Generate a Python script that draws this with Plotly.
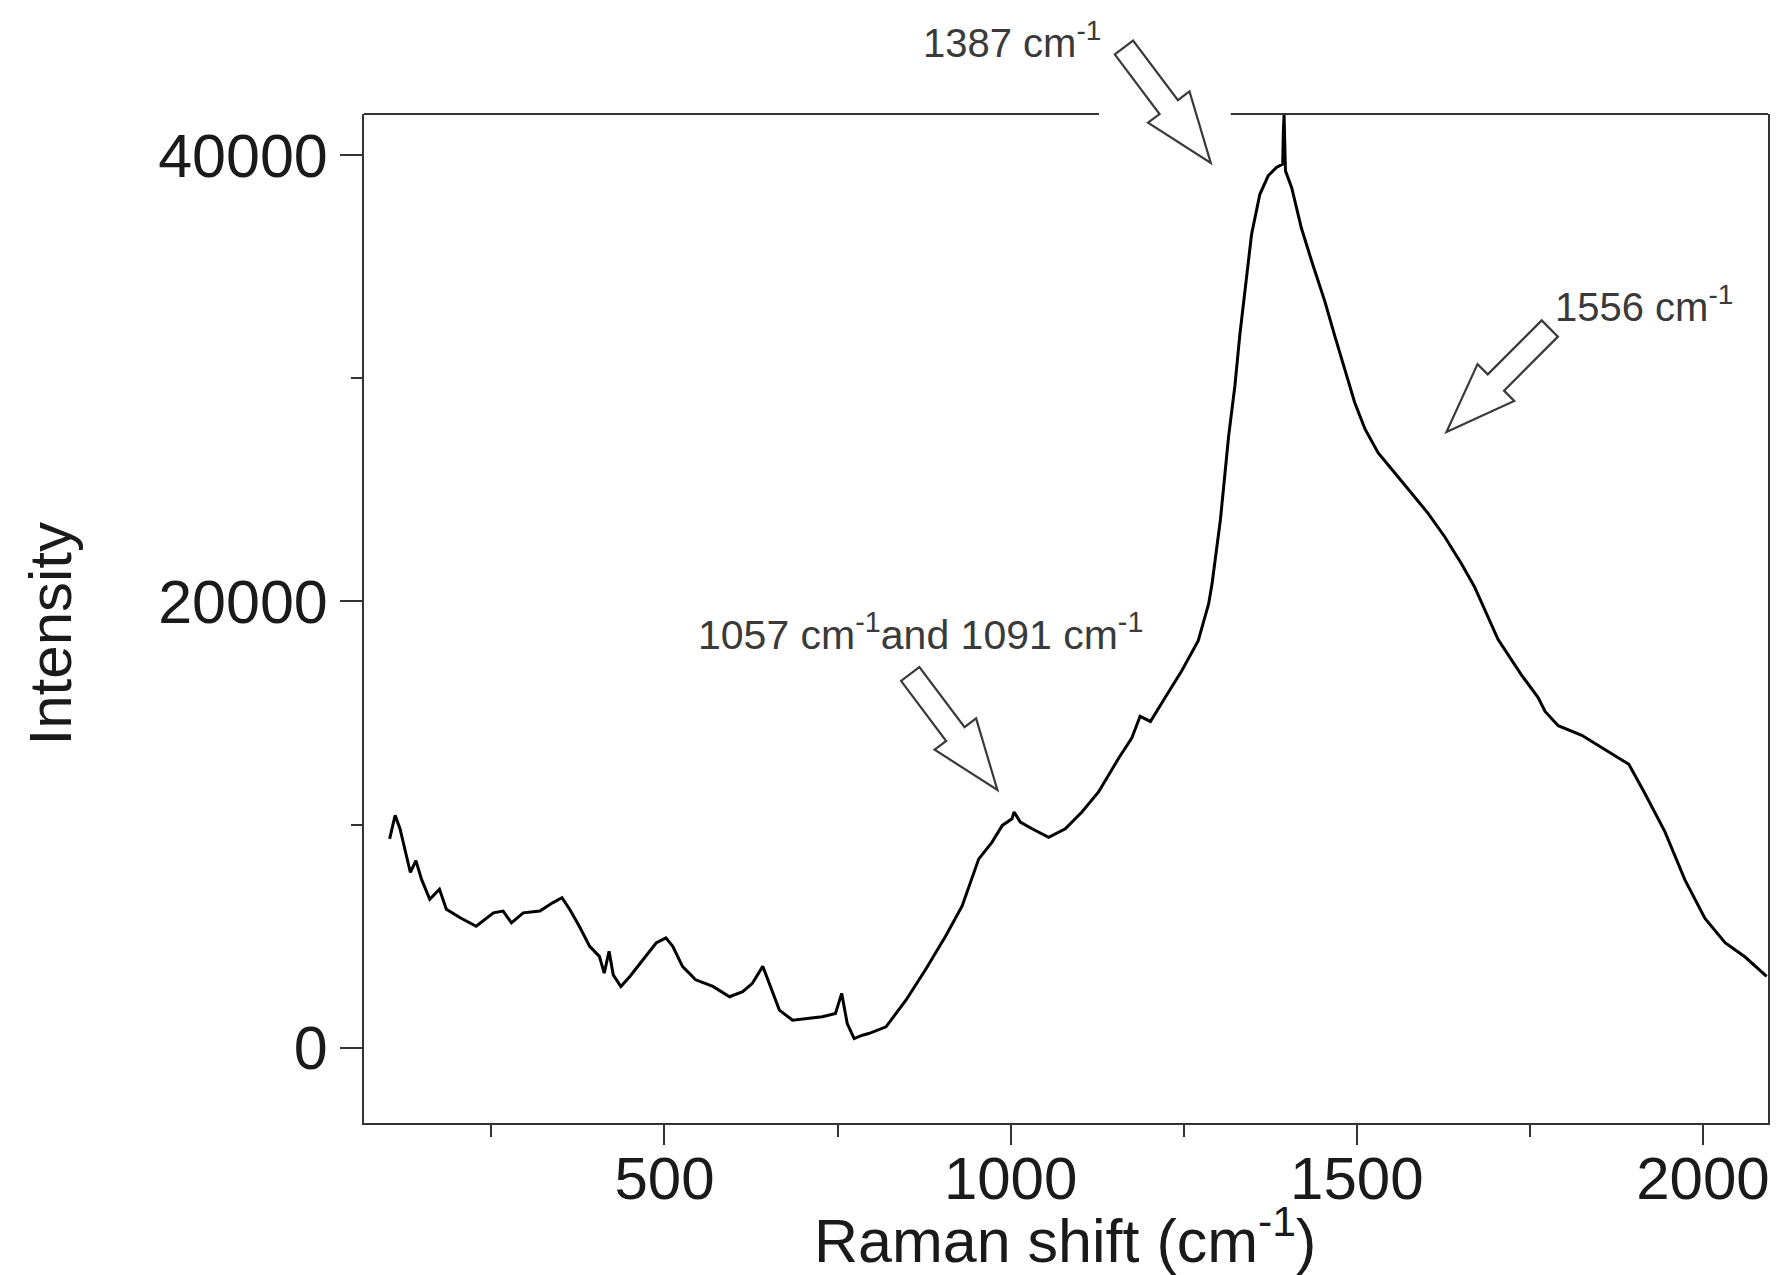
import plotly.graph_objects as go
import math

# ---- data (Raman spectrum) ----
raman_shift = [103, 111, 118, 133, 141, 149, 161, 175, 185, 205, 228, 253, 267, 279, 296,
               320, 339, 352, 363, 377, 392, 406, 413, 420, 426, 437, 450, 469, 488, 502,
               512, 526, 545, 570, 594, 613, 627, 642, 651, 666, 685, 704, 728, 747, 756,
               764, 774, 786, 795, 820, 849, 877, 906, 930, 945, 954, 973, 988, 1002, 1005,
               1014, 1031, 1055, 1079, 1103, 1127, 1156, 1175, 1187, 1202, 1223, 1247, 1271,
               1286, 1291, 1303, 1315, 1324, 1331, 1339, 1348, 1360, 1372, 1384, 1393, 1394,
               1395, 1396, 1397, 1406, 1420, 1435, 1454, 1468, 1483, 1497, 1512, 1531, 1555,
               1579, 1603, 1627, 1651, 1670, 1704, 1738, 1762, 1772, 1791, 1825, 1859, 1893,
               1916, 1945, 1974, 2003, 2032, 2061, 2092]
intensity = [9360, 10410, 9810, 7850, 8380, 7550, 6650, 7100, 6200, 5820, 5440, 6040, 6120, 5590, 6040,
             6120, 6500, 6720, 6200, 5440, 4540, 4090, 3340, 4320, 3260, 2740, 3190, 3940, 4690, 4920,
             4540, 3640, 3040, 2740, 2280, 2510, 2880, 3640, 2880, 1680, 1230, 1300, 1380, 1530, 2430,
             1080, 400, 555, 630, 930, 2135, 3490, 4990, 6350, 7700, 8460, 9200, 9960, 10260, 10560,
             10110, 9810, 9430, 9810, 10560, 11460, 12970, 13870, 14850, 14620, 15680, 16880, 18240,
             19890, 20800, 23650, 27430, 29670, 31930, 34190, 36450, 38250, 39080, 39450, 39600, 41100,
             41800, 40500, 39300, 38550, 36740, 35240, 33440, 31930, 30430, 28920, 27720, 26660, 25760,
             24860, 23950, 22900, 21700, 20660, 18300, 16700, 15690, 15070, 14430, 14000, 13350, 12700,
             11400, 9680, 7520, 5790, 4700, 4060, 3190]

x_ticks = [500, 1000, 1500, 2000]
y_ticks = [0, 20000, 40000]
y_tick_text = ["0", "20000", "40000"]

peak_labels = ["1387 cm<sup>-1</sup>",
               "1556 cm<sup>-1</sup>",
               "1057 cm<sup>-1</sup>and 1091 cm<sup>-1</sup>"]

# ---- layout geometry (screen pixels; page body has an 8px margin) ----
OFF = 8
W, H = 1781 - OFF, 1275 - OFF
ML, MR, MT, MB = 364 - OFF, 11, 114 - OFF, 160 - OFF
PW, PH = W - ML - MR, H - MT - MB


def px2paper(X, Y):
    return (X - OFF - ML) / PW, (H - MB - (Y - OFF)) / PH


# label centres (screen pixels) and arrows (tail centre, tip) in screen pixels
label_pos = [(1013, 40), (1646, 304), (921, 632)]
arrows = [((1125, 47.5), (1212, 163)),
          ((1551.5, 328.5), (1448, 432)),
          ((911, 674), (998.3, 790))]
SHAFT_W, HEAD_W, HEAD_L = 23, 52, 70

fig = go.Figure()
fig.add_trace(go.Scatter(x=raman_shift, y=intensity, mode="lines",
                         line=dict(color="black", width=3), showlegend=False))

shapes = []
for (tx, ty), (hx, hy) in arrows:
    L = math.hypot(hx - tx, hy - ty)
    ux, uy = (hx - tx) / L, (hy - ty) / L
    nx, ny = -uy, ux
    neckx, necky = hx - ux * HEAD_L, hy - uy * HEAD_L
    pts = [
        (tx + nx * SHAFT_W / 2, ty + ny * SHAFT_W / 2),
        (neckx + nx * SHAFT_W / 2, necky + ny * SHAFT_W / 2),
        (neckx + nx * HEAD_W / 2, necky + ny * HEAD_W / 2),
        (hx, hy),
        (neckx - nx * HEAD_W / 2, necky - ny * HEAD_W / 2),
        (neckx - nx * SHAFT_W / 2, necky - ny * SHAFT_W / 2),
        (tx - nx * SHAFT_W / 2, ty - ny * SHAFT_W / 2),
    ]
    pp = [px2paper(X, Y) for X, Y in pts]
    path = "M " + " L ".join(f"{a:.5f},{b:.5f}" for a, b in pp) + " Z"
    shapes.append(dict(type="path", path=path, xref="paper", yref="paper",
                       fillcolor="white", line=dict(color="#3a3a3a", width=2.2),
                       layer="above"))

# top frame line, broken where the first arrow crosses it
gap_l, _ = px2paper(1100, 0)
gap_r, _ = px2paper(1232, 0)
for a, b in [(0, gap_l), (gap_r, 1)]:
    shapes.append(dict(type="line", xref="paper", yref="paper", x0=a, x1=b, y0=1, y1=1,
                       line=dict(color="#333333", width=2)))

annotations = []
for txt, (X, Y), fs in zip(peak_labels, label_pos, [40, 40, 41]):
    ax_, ay_ = px2paper(X, Y)
    annotations.append(dict(text=txt, x=ax_, y=ay_, xref="paper", yref="paper",
                            xanchor="center", yanchor="middle", showarrow=False,
                            font=dict(family="Liberation Sans, Arial", size=fs, color="#3a3a3a")))

xt_x, xt_y = px2paper(1066, 1236)
annotations.append(dict(text="Raman shift (cm<sup>-1</sup>)", x=xt_x, y=xt_y,
                        xref="paper", yref="paper", xanchor="center", yanchor="middle",
                        showarrow=False,
                        font=dict(family="Liberation Sans, Arial", size=61, color="#1a1a1a")))
yt_x, yt_y = px2paper(51, 634)
annotations.append(dict(text="Intensity", x=yt_x, y=yt_y, textangle=-90,
                        xref="paper", yref="paper", xanchor="center", yanchor="middle",
                        showarrow=False,
                        font=dict(family="Liberation Sans, Arial", size=60, color="#1a1a1a")))

fig.update_layout(
    width=W, height=H,
    margin=dict(l=ML, r=MR, t=MT, b=MB),
    paper_bgcolor="white", plot_bgcolor="white",
    shapes=shapes, annotations=annotations,
    font=dict(family="Liberation Sans, Arial", color="#1a1a1a"),
)
fig.update_xaxes(range=[66, 2094], tickvals=x_ticks, ticks="outside", ticklen=20,
                 tickwidth=2, tickcolor="#333333", showline=True, linewidth=2,
                 linecolor="#333333", mirror=False, showgrid=False, zeroline=False,
                 tickfont=dict(size=60), ticklabelstandoff=-18,
                 minor=dict(dtick=250, tick0=0, ticks="outside", ticklen=12, tickwidth=2,
                            tickcolor="#333333", showgrid=False))
fig.update_yaxes(range=[-3380, 41850], tickvals=y_ticks, ticktext=y_tick_text,
                 ticks="outside", ticklen=22,
                 tickwidth=2, tickcolor="#333333", showline=True, linewidth=2,
                 linecolor="#333333", mirror=True, showgrid=False, zeroline=False,
                 tickfont=dict(size=61), ticklabelstandoff=0,
                 minor=dict(dtick=10000, tick0=0, ticks="outside", ticklen=11, tickwidth=2,
                            tickcolor="#333333", showgrid=False))

fig.write_html("out.html")
